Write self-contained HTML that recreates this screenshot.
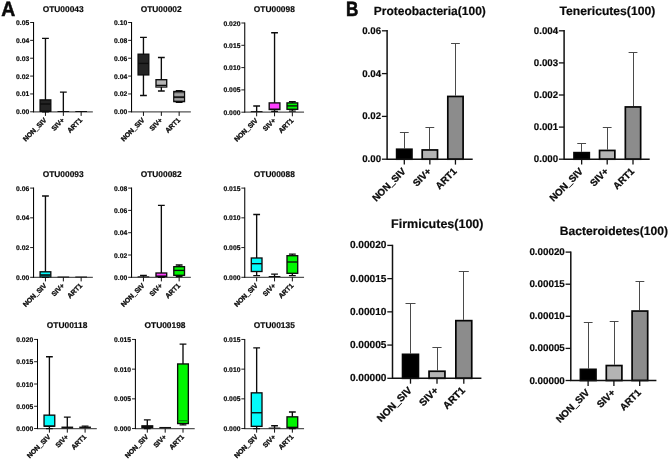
<!DOCTYPE html>
<html><head><meta charset="utf-8"><title>figure</title>
<style>
html,body{margin:0;padding:0;background:#fff;}
body{width:669px;height:459px;overflow:hidden;}
svg{display:block;will-change:transform;}
svg text{text-rendering:geometricPrecision;font-family:"Liberation Sans", sans-serif;font-weight:bold;fill:#0a0a0a;stroke:#0a0a0a;stroke-width:0.18px;}
</style></head><body>
<svg width="669" height="459" viewBox="0 0 669 459">
<rect width="669" height="459" fill="#fff"/>
<path d="M33.05 111.80H92.85" fill="none" stroke="#555" stroke-width="1.3"/>
<path d="M33.55 22.00V112.20" fill="none" stroke="#000" stroke-width="1.05"/>
<path d="M30.15 111.80H33.55" stroke="#111" stroke-width="0.95"/>
<text x="29.35" y="114.35" font-size="6.75" text-anchor="end" letter-spacing="0.05">0.00</text>
<path d="M30.15 93.94H33.55" stroke="#111" stroke-width="0.95"/>
<text x="29.35" y="96.49" font-size="6.75" text-anchor="end" letter-spacing="0.05">0.01</text>
<path d="M30.15 76.08H33.55" stroke="#111" stroke-width="0.95"/>
<text x="29.35" y="78.63" font-size="6.75" text-anchor="end" letter-spacing="0.05">0.02</text>
<path d="M30.15 58.22H33.55" stroke="#111" stroke-width="0.95"/>
<text x="29.35" y="60.77" font-size="6.75" text-anchor="end" letter-spacing="0.05">0.03</text>
<path d="M30.15 40.36H33.55" stroke="#111" stroke-width="0.95"/>
<text x="29.35" y="42.91" font-size="6.75" text-anchor="end" letter-spacing="0.05">0.04</text>
<path d="M30.15 22.50H33.55" stroke="#111" stroke-width="0.95"/>
<text x="29.35" y="25.05" font-size="6.75" text-anchor="end" letter-spacing="0.05">0.05</text>
<text x="63.15" y="12.00" font-size="8.38" text-anchor="middle">OTU00043</text>
<path d="M45.45 111.80V115.90" stroke="#111" stroke-width="1.0"/>
<text transform="translate(46.95,120.60) rotate(-45)" font-size="6.8" text-anchor="end" style="stroke-width:0.3px">NON_SIV</text>
<path d="M63.35 111.80V115.90" stroke="#111" stroke-width="1.0"/>
<text transform="translate(64.85,120.60) rotate(-45)" font-size="6.8" text-anchor="end" style="stroke-width:0.3px">SIV+</text>
<path d="M81.15 111.80V115.90" stroke="#111" stroke-width="1.0"/>
<text transform="translate(82.65,120.60) rotate(-45)" font-size="6.8" text-anchor="end" style="stroke-width:0.3px">ART1</text>
<path d="M45.45 38.40V111.80M42.05 38.40H48.85M42.05 111.80H48.85" stroke="#0c0c0c" stroke-width="1.35" fill="none"/>
<rect x="40.10" y="99.90" width="10.70" height="11.40" fill="#242424" stroke="#0c0c0c" stroke-width="1.35"/>
<path d="M40.10 104.00H50.80" stroke="#0c0c0c" stroke-width="1.35"/>
<path d="M57.50 111.50H69.20" stroke="#111" stroke-width="1.0"/>
<path d="M63.35 92.10V111.50M59.95 92.10H66.75" stroke="#0c0c0c" stroke-width="1.35" fill="none"/>
<path d="M75.30 111.50H87.00" stroke="#111" stroke-width="1.0"/>
<path d="M131.05 111.80H190.85" fill="none" stroke="#555" stroke-width="1.3"/>
<path d="M131.55 22.00V112.20" fill="none" stroke="#000" stroke-width="1.05"/>
<path d="M128.15 111.80H131.55" stroke="#111" stroke-width="0.95"/>
<text x="127.35" y="114.35" font-size="6.75" text-anchor="end" letter-spacing="0.05">0.00</text>
<path d="M128.15 93.94H131.55" stroke="#111" stroke-width="0.95"/>
<text x="127.35" y="96.49" font-size="6.75" text-anchor="end" letter-spacing="0.05">0.02</text>
<path d="M128.15 76.08H131.55" stroke="#111" stroke-width="0.95"/>
<text x="127.35" y="78.63" font-size="6.75" text-anchor="end" letter-spacing="0.05">0.04</text>
<path d="M128.15 58.22H131.55" stroke="#111" stroke-width="0.95"/>
<text x="127.35" y="60.77" font-size="6.75" text-anchor="end" letter-spacing="0.05">0.06</text>
<path d="M128.15 40.36H131.55" stroke="#111" stroke-width="0.95"/>
<text x="127.35" y="42.91" font-size="6.75" text-anchor="end" letter-spacing="0.05">0.08</text>
<path d="M128.15 22.50H131.55" stroke="#111" stroke-width="0.95"/>
<text x="127.35" y="25.05" font-size="6.75" text-anchor="end" letter-spacing="0.05">0.10</text>
<text x="161.15" y="12.00" font-size="8.38" text-anchor="middle">OTU00002</text>
<path d="M143.45 111.80V115.90" stroke="#111" stroke-width="1.0"/>
<text transform="translate(144.95,120.60) rotate(-45)" font-size="6.8" text-anchor="end" style="stroke-width:0.3px">NON_SIV</text>
<path d="M161.35 111.80V115.90" stroke="#111" stroke-width="1.0"/>
<text transform="translate(162.85,120.60) rotate(-45)" font-size="6.8" text-anchor="end" style="stroke-width:0.3px">SIV+</text>
<path d="M179.15 111.80V115.90" stroke="#111" stroke-width="1.0"/>
<text transform="translate(180.65,120.60) rotate(-45)" font-size="6.8" text-anchor="end" style="stroke-width:0.3px">ART1</text>
<path d="M143.45 37.40V95.50M140.05 37.40H146.85M140.05 95.50H146.85" stroke="#0c0c0c" stroke-width="1.35" fill="none"/>
<rect x="138.10" y="54.20" width="10.70" height="20.70" fill="#242424" stroke="#0c0c0c" stroke-width="1.35"/>
<path d="M138.10 63.40H148.80" stroke="#0c0c0c" stroke-width="1.35"/>
<path d="M161.35 57.50V91.00M157.95 57.50H164.75M157.95 91.00H164.75" stroke="#0c0c0c" stroke-width="1.35" fill="none"/>
<rect x="156.00" y="79.70" width="10.70" height="7.30" fill="#b4b4b4" stroke="#0c0c0c" stroke-width="1.35"/>
<rect x="156.50" y="85.40" width="9.70" height="1.60" fill="#6e6e6e"/>
<path d="M156.00 85.40H166.70" stroke="#0c0c0c" stroke-width="1.35"/>
<path d="M179.15 90.70V102.40M175.75 90.70H182.55M175.75 102.40H182.55" stroke="#0c0c0c" stroke-width="1.35" fill="none"/>
<rect x="173.80" y="91.50" width="10.70" height="10.10" fill="#626262" stroke="#0c0c0c" stroke-width="1.35"/>
<rect x="174.40" y="93.30" width="9.50" height="2.60" fill="#a2a2a2"/>
<rect x="174.40" y="98.30" width="9.50" height="2.00" fill="#a2a2a2"/>
<path d="M173.80 97.20H184.50" stroke="#0c0c0c" stroke-width="1.35"/>
<path d="M244.25 112.20H304.05" fill="none" stroke="#555" stroke-width="1.3"/>
<path d="M244.75 22.50V112.60" fill="none" stroke="#000" stroke-width="1.05"/>
<path d="M241.35 112.20H244.75" stroke="#111" stroke-width="0.95"/>
<text x="240.55" y="114.75" font-size="6.75" text-anchor="end" letter-spacing="0.05">0.000</text>
<path d="M241.35 89.90H244.75" stroke="#111" stroke-width="0.95"/>
<text x="240.55" y="92.45" font-size="6.75" text-anchor="end" letter-spacing="0.05">0.005</text>
<path d="M241.35 67.60H244.75" stroke="#111" stroke-width="0.95"/>
<text x="240.55" y="70.15" font-size="6.75" text-anchor="end" letter-spacing="0.05">0.010</text>
<path d="M241.35 45.30H244.75" stroke="#111" stroke-width="0.95"/>
<text x="240.55" y="47.85" font-size="6.75" text-anchor="end" letter-spacing="0.05">0.015</text>
<path d="M241.35 23.00H244.75" stroke="#111" stroke-width="0.95"/>
<text x="240.55" y="25.55" font-size="6.75" text-anchor="end" letter-spacing="0.05">0.020</text>
<text x="274.35" y="12.00" font-size="8.38" text-anchor="middle">OTU00098</text>
<path d="M256.65 112.20V116.30" stroke="#111" stroke-width="1.0"/>
<text transform="translate(258.15,121.00) rotate(-45)" font-size="6.8" text-anchor="end" style="stroke-width:0.3px">NON_SIV</text>
<path d="M274.55 112.20V116.30" stroke="#111" stroke-width="1.0"/>
<text transform="translate(276.05,121.00) rotate(-45)" font-size="6.8" text-anchor="end" style="stroke-width:0.3px">SIV+</text>
<path d="M292.35 112.20V116.30" stroke="#111" stroke-width="1.0"/>
<text transform="translate(293.85,121.00) rotate(-45)" font-size="6.8" text-anchor="end" style="stroke-width:0.3px">ART1</text>
<path d="M250.80 111.60H262.50" stroke="#111" stroke-width="1.0"/>
<path d="M256.65 106.00V111.60M253.25 106.00H260.05" stroke="#0c0c0c" stroke-width="1.35" fill="none"/>
<path d="M274.55 32.70V111.40M271.15 32.70H277.95M271.15 111.40H277.95" stroke="#0c0c0c" stroke-width="1.35" fill="none"/>
<rect x="269.20" y="102.90" width="10.70" height="6.60" fill="#ff40ff" stroke="#0c0c0c" stroke-width="1.35"/>
<path d="M269.20 109.30H279.90" stroke="#0c0c0c" stroke-width="1.35"/>
<path d="M292.35 101.70V111.10M288.95 101.70H295.75M288.95 111.10H295.75" stroke="#0c0c0c" stroke-width="1.35" fill="none"/>
<rect x="287.00" y="102.90" width="10.70" height="6.40" fill="#00f600" stroke="#0c0c0c" stroke-width="1.35"/>
<path d="M287.00 105.90H297.70" stroke="#0c0c0c" stroke-width="1.35"/>
<g transform="translate(0,0.3)">
<path d="M33.05 277.00H92.85" fill="none" stroke="#555" stroke-width="1.3"/>
<path d="M33.55 187.30V277.40" fill="none" stroke="#000" stroke-width="1.05"/>
<path d="M30.15 277.00H33.55" stroke="#111" stroke-width="0.95"/>
<text x="29.35" y="279.55" font-size="6.75" text-anchor="end" letter-spacing="0.05">0.00</text>
<path d="M30.15 247.27H33.55" stroke="#111" stroke-width="0.95"/>
<text x="29.35" y="249.82" font-size="6.75" text-anchor="end" letter-spacing="0.05">0.02</text>
<path d="M30.15 217.53H33.55" stroke="#111" stroke-width="0.95"/>
<text x="29.35" y="220.08" font-size="6.75" text-anchor="end" letter-spacing="0.05">0.04</text>
<path d="M30.15 187.80H33.55" stroke="#111" stroke-width="0.95"/>
<text x="29.35" y="190.35" font-size="6.75" text-anchor="end" letter-spacing="0.05">0.06</text>
<text x="63.15" y="176.50" font-size="8.38" text-anchor="middle">OTU00093</text>
<path d="M45.45 277.00V281.10" stroke="#111" stroke-width="1.0"/>
<text transform="translate(46.95,285.80) rotate(-45)" font-size="6.8" text-anchor="end" style="stroke-width:0.3px">NON_SIV</text>
<path d="M63.35 277.00V281.10" stroke="#111" stroke-width="1.0"/>
<text transform="translate(64.85,285.80) rotate(-45)" font-size="6.8" text-anchor="end" style="stroke-width:0.3px">SIV+</text>
<path d="M81.15 277.00V281.10" stroke="#111" stroke-width="1.0"/>
<text transform="translate(82.65,285.80) rotate(-45)" font-size="6.8" text-anchor="end" style="stroke-width:0.3px">ART1</text>
<path d="M45.45 195.70V277.00M42.05 195.70H48.85M42.05 277.00H48.85" stroke="#0c0c0c" stroke-width="1.35" fill="none"/>
<rect x="40.10" y="271.50" width="10.70" height="5.00" fill="#04fafa" stroke="#0c0c0c" stroke-width="1.35"/>
<rect x="40.60" y="274.60" width="9.70" height="1.90" fill="#0a5c5c"/>
<path d="M40.10 274.60H50.80" stroke="#0c0c0c" stroke-width="1.35"/>
<path d="M57.50 276.70H69.20" stroke="#111" stroke-width="1.0"/>
<path d="M75.30 276.70H87.00" stroke="#111" stroke-width="1.0"/>
<path d="M131.05 277.00H190.85" fill="none" stroke="#555" stroke-width="1.3"/>
<path d="M131.55 187.30V277.40" fill="none" stroke="#000" stroke-width="1.05"/>
<path d="M128.15 277.00H131.55" stroke="#111" stroke-width="0.95"/>
<text x="127.35" y="279.55" font-size="6.75" text-anchor="end" letter-spacing="0.05">0.00</text>
<path d="M128.15 254.70H131.55" stroke="#111" stroke-width="0.95"/>
<text x="127.35" y="257.25" font-size="6.75" text-anchor="end" letter-spacing="0.05">0.02</text>
<path d="M128.15 232.40H131.55" stroke="#111" stroke-width="0.95"/>
<text x="127.35" y="234.95" font-size="6.75" text-anchor="end" letter-spacing="0.05">0.04</text>
<path d="M128.15 210.10H131.55" stroke="#111" stroke-width="0.95"/>
<text x="127.35" y="212.65" font-size="6.75" text-anchor="end" letter-spacing="0.05">0.06</text>
<path d="M128.15 187.80H131.55" stroke="#111" stroke-width="0.95"/>
<text x="127.35" y="190.35" font-size="6.75" text-anchor="end" letter-spacing="0.05">0.08</text>
<text x="161.15" y="176.50" font-size="8.38" text-anchor="middle">OTU00082</text>
<path d="M143.45 277.00V281.10" stroke="#111" stroke-width="1.0"/>
<text transform="translate(144.95,285.80) rotate(-45)" font-size="6.8" text-anchor="end" style="stroke-width:0.3px">NON_SIV</text>
<path d="M161.35 277.00V281.10" stroke="#111" stroke-width="1.0"/>
<text transform="translate(162.85,285.80) rotate(-45)" font-size="6.8" text-anchor="end" style="stroke-width:0.3px">SIV+</text>
<path d="M179.15 277.00V281.10" stroke="#111" stroke-width="1.0"/>
<text transform="translate(180.65,285.80) rotate(-45)" font-size="6.8" text-anchor="end" style="stroke-width:0.3px">ART1</text>
<path d="M137.60 276.50H149.30" stroke="#111" stroke-width="1.0"/>
<path d="M143.45 275.00V276.50M140.05 275.00H146.85" stroke="#0c0c0c" stroke-width="1.35" fill="none"/>
<path d="M161.35 205.00V277.00M157.95 205.00H164.75M157.95 277.00H164.75" stroke="#0c0c0c" stroke-width="1.35" fill="none"/>
<rect x="156.00" y="272.70" width="10.70" height="3.40" fill="#ff40ff" stroke="#0c0c0c" stroke-width="1.35"/>
<path d="M156.00 276.00H166.70" stroke="#0c0c0c" stroke-width="1.35"/>
<path d="M179.15 264.70V276.20M175.75 264.70H182.55M175.75 276.20H182.55" stroke="#0c0c0c" stroke-width="1.35" fill="none"/>
<rect x="173.80" y="266.40" width="10.70" height="8.60" fill="#00f600" stroke="#0c0c0c" stroke-width="1.35"/>
<path d="M173.80 270.10H184.50" stroke="#0c0c0c" stroke-width="1.35"/>
<path d="M244.25 277.00H304.05" fill="none" stroke="#555" stroke-width="1.3"/>
<path d="M244.75 187.30V277.40" fill="none" stroke="#000" stroke-width="1.05"/>
<path d="M241.35 277.00H244.75" stroke="#111" stroke-width="0.95"/>
<text x="240.55" y="279.55" font-size="6.75" text-anchor="end" letter-spacing="0.05">0.000</text>
<path d="M241.35 247.27H244.75" stroke="#111" stroke-width="0.95"/>
<text x="240.55" y="249.82" font-size="6.75" text-anchor="end" letter-spacing="0.05">0.005</text>
<path d="M241.35 217.53H244.75" stroke="#111" stroke-width="0.95"/>
<text x="240.55" y="220.08" font-size="6.75" text-anchor="end" letter-spacing="0.05">0.010</text>
<path d="M241.35 187.80H244.75" stroke="#111" stroke-width="0.95"/>
<text x="240.55" y="190.35" font-size="6.75" text-anchor="end" letter-spacing="0.05">0.015</text>
<text x="274.35" y="176.50" font-size="8.38" text-anchor="middle">OTU00088</text>
<path d="M256.65 277.00V281.10" stroke="#111" stroke-width="1.0"/>
<text transform="translate(258.15,285.80) rotate(-45)" font-size="6.8" text-anchor="end" style="stroke-width:0.3px">NON_SIV</text>
<path d="M274.55 277.00V281.10" stroke="#111" stroke-width="1.0"/>
<text transform="translate(276.05,285.80) rotate(-45)" font-size="6.8" text-anchor="end" style="stroke-width:0.3px">SIV+</text>
<path d="M292.35 277.00V281.10" stroke="#111" stroke-width="1.0"/>
<text transform="translate(293.85,285.80) rotate(-45)" font-size="6.8" text-anchor="end" style="stroke-width:0.3px">ART1</text>
<path d="M256.65 214.20V275.30M253.25 214.20H260.05M253.25 275.30H260.05" stroke="#0c0c0c" stroke-width="1.35" fill="none"/>
<rect x="251.30" y="257.70" width="10.70" height="13.50" fill="#04fafa" stroke="#0c0c0c" stroke-width="1.35"/>
<path d="M251.30 263.40H262.00" stroke="#0c0c0c" stroke-width="1.35"/>
<path d="M268.70 276.20H280.40" stroke="#111" stroke-width="1.0"/>
<path d="M274.55 273.90V276.20M271.15 273.90H277.95" stroke="#0c0c0c" stroke-width="1.35" fill="none"/>
<path d="M292.35 253.80V275.30M288.95 253.80H295.75M288.95 275.30H295.75" stroke="#0c0c0c" stroke-width="1.35" fill="none"/>
<rect x="287.00" y="255.40" width="10.70" height="17.60" fill="#00f600" stroke="#0c0c0c" stroke-width="1.35"/>
<path d="M287.00 261.70H297.70" stroke="#0c0c0c" stroke-width="1.35"/>
</g>
<g transform="translate(0,0.25)">
<path d="M37.00 428.30H96.80" fill="none" stroke="#555" stroke-width="1.3"/>
<path d="M37.50 338.70V428.70" fill="none" stroke="#000" stroke-width="1.05"/>
<path d="M34.10 428.30H37.50" stroke="#111" stroke-width="0.95"/>
<text x="33.30" y="430.85" font-size="6.75" text-anchor="end" letter-spacing="0.05">0.000</text>
<path d="M34.10 406.02H37.50" stroke="#111" stroke-width="0.95"/>
<text x="33.30" y="408.57" font-size="6.75" text-anchor="end" letter-spacing="0.05">0.005</text>
<path d="M34.10 383.75H37.50" stroke="#111" stroke-width="0.95"/>
<text x="33.30" y="386.30" font-size="6.75" text-anchor="end" letter-spacing="0.05">0.010</text>
<path d="M34.10 361.48H37.50" stroke="#111" stroke-width="0.95"/>
<text x="33.30" y="364.03" font-size="6.75" text-anchor="end" letter-spacing="0.05">0.015</text>
<path d="M34.10 339.20H37.50" stroke="#111" stroke-width="0.95"/>
<text x="33.30" y="341.75" font-size="6.75" text-anchor="end" letter-spacing="0.05">0.020</text>
<text x="67.10" y="328.20" font-size="8.38" text-anchor="middle">OTU00118</text>
<path d="M49.40 428.30V432.40" stroke="#111" stroke-width="1.0"/>
<text transform="translate(50.90,437.10) rotate(-45)" font-size="6.8" text-anchor="end" style="stroke-width:0.3px">NON_SIV</text>
<path d="M67.30 428.30V432.40" stroke="#111" stroke-width="1.0"/>
<text transform="translate(68.80,437.10) rotate(-45)" font-size="6.8" text-anchor="end" style="stroke-width:0.3px">SIV+</text>
<path d="M85.10 428.30V432.40" stroke="#111" stroke-width="1.0"/>
<text transform="translate(86.60,437.10) rotate(-45)" font-size="6.8" text-anchor="end" style="stroke-width:0.3px">ART1</text>
<path d="M49.40 356.50V428.30M46.00 356.50H52.80M46.00 428.30H52.80" stroke="#0c0c0c" stroke-width="1.35" fill="none"/>
<rect x="44.05" y="414.90" width="10.70" height="11.00" fill="#04fafa" stroke="#0c0c0c" stroke-width="1.35"/>
<path d="M44.05 426.00H54.75" stroke="#0c0c0c" stroke-width="1.35"/>
<path d="M61.45 427.30H73.15" stroke="#111" stroke-width="2.0"/>
<path d="M67.30 416.80V427.30M63.90 416.80H70.70" stroke="#0c0c0c" stroke-width="1.35" fill="none"/>
<path d="M79.25 427.10H90.95" stroke="#111" stroke-width="1.6"/>
<path d="M85.10 425.90V427.10M81.70 425.90H88.50" stroke="#0c0c0c" stroke-width="1.35" fill="none"/>
<path d="M134.90 428.30H194.70" fill="none" stroke="#555" stroke-width="1.3"/>
<path d="M135.40 338.70V428.70" fill="none" stroke="#000" stroke-width="1.05"/>
<path d="M132.00 428.30H135.40" stroke="#111" stroke-width="0.95"/>
<text x="131.20" y="430.85" font-size="6.75" text-anchor="end" letter-spacing="0.05">0.000</text>
<path d="M132.00 398.60H135.40" stroke="#111" stroke-width="0.95"/>
<text x="131.20" y="401.15" font-size="6.75" text-anchor="end" letter-spacing="0.05">0.005</text>
<path d="M132.00 368.90H135.40" stroke="#111" stroke-width="0.95"/>
<text x="131.20" y="371.45" font-size="6.75" text-anchor="end" letter-spacing="0.05">0.010</text>
<path d="M132.00 339.20H135.40" stroke="#111" stroke-width="0.95"/>
<text x="131.20" y="341.75" font-size="6.75" text-anchor="end" letter-spacing="0.05">0.015</text>
<text x="165.00" y="328.20" font-size="8.38" text-anchor="middle">OTU00198</text>
<path d="M147.30 428.30V432.40" stroke="#111" stroke-width="1.0"/>
<text transform="translate(148.80,437.10) rotate(-45)" font-size="6.8" text-anchor="end" style="stroke-width:0.3px">NON_SIV</text>
<path d="M165.20 428.30V432.40" stroke="#111" stroke-width="1.0"/>
<text transform="translate(166.70,437.10) rotate(-45)" font-size="6.8" text-anchor="end" style="stroke-width:0.3px">SIV+</text>
<path d="M183.00 428.30V432.40" stroke="#111" stroke-width="1.0"/>
<text transform="translate(184.50,437.10) rotate(-45)" font-size="6.8" text-anchor="end" style="stroke-width:0.3px">ART1</text>
<path d="M147.30 419.60V428.30M143.90 419.60H150.70M143.90 428.30H150.70" stroke="#0c0c0c" stroke-width="1.35" fill="none"/>
<rect x="141.95" y="425.60" width="10.70" height="1.70" fill="#5a5a5a" stroke="#0c0c0c" stroke-width="1.35"/>
<path d="M141.95 426.40H152.65" stroke="#0c0c0c" stroke-width="1.35"/>
<path d="M159.35 427.40H171.05" stroke="#111" stroke-width="1.4"/>
<path d="M183.00 343.90V424.60M179.60 343.90H186.40M179.60 424.60H186.40" stroke="#0c0c0c" stroke-width="1.35" fill="none"/>
<rect x="177.65" y="363.70" width="10.70" height="59.60" fill="#00f600" stroke="#0c0c0c" stroke-width="1.35"/>
<path d="M177.65 420.40H188.35" stroke="#0a8a0a" stroke-width="1.35"/>
<path d="M244.25 428.30H304.05" fill="none" stroke="#555" stroke-width="1.3"/>
<path d="M244.75 338.70V428.70" fill="none" stroke="#000" stroke-width="1.05"/>
<path d="M241.35 428.30H244.75" stroke="#111" stroke-width="0.95"/>
<text x="240.55" y="430.85" font-size="6.75" text-anchor="end" letter-spacing="0.05">0.000</text>
<path d="M241.35 398.60H244.75" stroke="#111" stroke-width="0.95"/>
<text x="240.55" y="401.15" font-size="6.75" text-anchor="end" letter-spacing="0.05">0.005</text>
<path d="M241.35 368.90H244.75" stroke="#111" stroke-width="0.95"/>
<text x="240.55" y="371.45" font-size="6.75" text-anchor="end" letter-spacing="0.05">0.010</text>
<path d="M241.35 339.20H244.75" stroke="#111" stroke-width="0.95"/>
<text x="240.55" y="341.75" font-size="6.75" text-anchor="end" letter-spacing="0.05">0.015</text>
<text x="274.35" y="328.20" font-size="8.38" text-anchor="middle">OTU00135</text>
<path d="M256.65 428.30V432.40" stroke="#111" stroke-width="1.0"/>
<text transform="translate(258.15,437.10) rotate(-45)" font-size="6.8" text-anchor="end" style="stroke-width:0.3px">NON_SIV</text>
<path d="M274.55 428.30V432.40" stroke="#111" stroke-width="1.0"/>
<text transform="translate(276.05,437.10) rotate(-45)" font-size="6.8" text-anchor="end" style="stroke-width:0.3px">SIV+</text>
<path d="M292.35 428.30V432.40" stroke="#111" stroke-width="1.0"/>
<text transform="translate(293.85,437.10) rotate(-45)" font-size="6.8" text-anchor="end" style="stroke-width:0.3px">ART1</text>
<path d="M256.65 347.60V428.30M253.25 347.60H260.05M253.25 428.30H260.05" stroke="#0c0c0c" stroke-width="1.35" fill="none"/>
<rect x="251.30" y="392.60" width="10.70" height="33.50" fill="#04fafa" stroke="#0c0c0c" stroke-width="1.35"/>
<path d="M251.30 412.50H262.00" stroke="#0c0c0c" stroke-width="1.35"/>
<path d="M268.70 427.80H280.40" stroke="#111" stroke-width="1.0"/>
<path d="M274.55 425.50V427.80M271.15 425.50H277.95" stroke="#0c0c0c" stroke-width="1.35" fill="none"/>
<path d="M292.35 411.70V428.30M288.95 411.70H295.75M288.95 428.30H295.75" stroke="#0c0c0c" stroke-width="1.35" fill="none"/>
<rect x="287.00" y="416.60" width="10.70" height="10.70" fill="#00f600" stroke="#0c0c0c" stroke-width="1.35"/>
<path d="M287.00 427.20H297.70" stroke="#0c0c0c" stroke-width="1.35"/>
</g>
<path d="M404.50 132.50V148.40M399.90 132.50H408.70" stroke="#4a4a4a" stroke-width="1" fill="none"/>
<rect x="396.65" y="149.25" width="15.30" height="9.95" fill="#000" stroke="#050505" stroke-width="1.7"/>
<path d="M429.50 127.50V149.10M425.45 127.50H434.25" stroke="#4a4a4a" stroke-width="1" fill="none"/>
<rect x="422.20" y="149.95" width="15.30" height="9.25" fill="#b4b4b4" stroke="#050505" stroke-width="1.7"/>
<path d="M455.50 43.50V95.60M451.05 43.50H459.85" stroke="#4a4a4a" stroke-width="1" fill="none"/>
<rect x="447.80" y="96.45" width="15.30" height="62.75" fill="#8c8c8c" stroke="#050505" stroke-width="1.7"/>
<path d="M387.10 30.10V159.20H472.70" fill="none" stroke="#111" stroke-width="1.5"/>
<path d="M381.90 159.20H387.10" stroke="#111" stroke-width="1.3"/>
<text x="381.10" y="162.20" font-size="9.7" text-anchor="end">0.00</text>
<path d="M381.90 116.40H387.10" stroke="#111" stroke-width="1.3"/>
<text x="381.10" y="119.40" font-size="9.7" text-anchor="end">0.02</text>
<path d="M381.90 73.60H387.10" stroke="#111" stroke-width="1.3"/>
<text x="381.10" y="76.60" font-size="9.7" text-anchor="end">0.04</text>
<path d="M381.90 30.80H387.10" stroke="#111" stroke-width="1.3"/>
<text x="381.10" y="33.80" font-size="9.7" text-anchor="end">0.06</text>
<text x="429.80" y="14.90" font-size="12" text-anchor="middle">Proteobacteria(100)</text>
<path d="M404.30 159.20V164.60" stroke="#111" stroke-width="1.3"/>
<text transform="translate(406.20,172.00) rotate(-45)" font-size="9.7" text-anchor="end" style="stroke-width:0.3px">NON_SIV</text>
<path d="M429.85 159.20V164.60" stroke="#111" stroke-width="1.3"/>
<text transform="translate(431.75,172.00) rotate(-45)" font-size="9.7" text-anchor="end" style="stroke-width:0.3px">SIV+</text>
<path d="M455.45 159.20V164.60" stroke="#111" stroke-width="1.3"/>
<text transform="translate(457.35,172.00) rotate(-45)" font-size="9.7" text-anchor="end" style="stroke-width:0.3px">ART1</text>
<path d="M581.50 143.50V151.80M577.25 143.50H586.05" stroke="#4a4a4a" stroke-width="1" fill="none"/>
<rect x="574.00" y="152.65" width="15.30" height="6.55" fill="#000" stroke="#050505" stroke-width="1.7"/>
<path d="M607.50 127.50V149.60M602.80 127.50H611.60" stroke="#4a4a4a" stroke-width="1" fill="none"/>
<rect x="599.55" y="150.45" width="15.30" height="8.75" fill="#b4b4b4" stroke="#050505" stroke-width="1.7"/>
<path d="M633.50 52.50V106.10M628.60 52.50H637.40" stroke="#4a4a4a" stroke-width="1" fill="none"/>
<rect x="625.35" y="106.95" width="15.30" height="52.25" fill="#8c8c8c" stroke="#050505" stroke-width="1.7"/>
<path d="M564.10 30.10V159.20H649.70" fill="none" stroke="#111" stroke-width="1.5"/>
<path d="M558.90 159.20H564.10" stroke="#111" stroke-width="1.3"/>
<text x="558.10" y="162.20" font-size="9.7" text-anchor="end">0.000</text>
<path d="M558.90 127.10H564.10" stroke="#111" stroke-width="1.3"/>
<text x="558.10" y="130.10" font-size="9.7" text-anchor="end">0.001</text>
<path d="M558.90 95.00H564.10" stroke="#111" stroke-width="1.3"/>
<text x="558.10" y="98.00" font-size="9.7" text-anchor="end">0.002</text>
<path d="M558.90 62.90H564.10" stroke="#111" stroke-width="1.3"/>
<text x="558.10" y="65.90" font-size="9.7" text-anchor="end">0.003</text>
<path d="M558.90 30.80H564.10" stroke="#111" stroke-width="1.3"/>
<text x="558.10" y="33.80" font-size="9.7" text-anchor="end">0.004</text>
<text x="607.40" y="14.60" font-size="12.15" text-anchor="middle">Tenericutes(100)</text>
<path d="M581.65 159.20V164.60" stroke="#111" stroke-width="1.3"/>
<text transform="translate(583.55,172.00) rotate(-45)" font-size="9.7" text-anchor="end" style="stroke-width:0.3px">NON_SIV</text>
<path d="M607.20 159.20V164.60" stroke="#111" stroke-width="1.3"/>
<text transform="translate(609.10,172.00) rotate(-45)" font-size="9.7" text-anchor="end" style="stroke-width:0.3px">SIV+</text>
<path d="M633.00 159.20V164.60" stroke="#111" stroke-width="1.3"/>
<text transform="translate(634.90,172.00) rotate(-45)" font-size="9.7" text-anchor="end" style="stroke-width:0.3px">ART1</text>
<path d="M410.50 303.50V353.50M405.50 303.50H415.50" stroke="#4a4a4a" stroke-width="1" fill="none"/>
<rect x="402.55" y="354.35" width="15.90" height="23.95" fill="#000" stroke="#050505" stroke-width="1.7"/>
<path d="M437.50 347.50V370.40M432.40 347.50H441.60" stroke="#4a4a4a" stroke-width="1" fill="none"/>
<rect x="429.05" y="371.25" width="15.90" height="7.05" fill="#b4b4b4" stroke="#050505" stroke-width="1.7"/>
<path d="M463.50 271.50V319.80M458.80 271.50H468.80" stroke="#4a4a4a" stroke-width="1" fill="none"/>
<rect x="455.85" y="320.65" width="15.90" height="57.65" fill="#8c8c8c" stroke="#050505" stroke-width="1.7"/>
<path d="M392.50 244.70V378.30H481.40" fill="none" stroke="#111" stroke-width="1.5"/>
<path d="M387.30 378.30H392.50" stroke="#111" stroke-width="1.3"/>
<text x="386.50" y="381.30" font-size="10.15" text-anchor="end">0.00000</text>
<path d="M387.30 345.07H392.50" stroke="#111" stroke-width="1.3"/>
<text x="386.50" y="348.07" font-size="10.15" text-anchor="end">0.00005</text>
<path d="M387.30 311.85H392.50" stroke="#111" stroke-width="1.3"/>
<text x="386.50" y="314.85" font-size="10.15" text-anchor="end">0.00010</text>
<path d="M387.30 278.62H392.50" stroke="#111" stroke-width="1.3"/>
<text x="386.50" y="281.62" font-size="10.15" text-anchor="end">0.00015</text>
<path d="M387.30 245.40H392.50" stroke="#111" stroke-width="1.3"/>
<text x="386.50" y="248.40" font-size="10.15" text-anchor="end">0.00020</text>
<text x="437.30" y="228.00" font-size="12.5" text-anchor="middle">Firmicutes(100)</text>
<path d="M410.50 378.30V383.70" stroke="#111" stroke-width="1.3"/>
<text transform="translate(412.40,391.10) rotate(-45)" font-size="10.1" text-anchor="end" style="stroke-width:0.3px">NON_SIV</text>
<path d="M437.00 378.30V383.70" stroke="#111" stroke-width="1.3"/>
<text transform="translate(438.90,391.10) rotate(-45)" font-size="10.1" text-anchor="end" style="stroke-width:0.3px">SIV+</text>
<path d="M463.80 378.30V383.70" stroke="#111" stroke-width="1.3"/>
<text transform="translate(465.70,391.10) rotate(-45)" font-size="10.1" text-anchor="end" style="stroke-width:0.3px">ART1</text>
<path d="M588.50 322.50V368.50M583.80 322.50H592.60" stroke="#4a4a4a" stroke-width="1" fill="none"/>
<rect x="580.40" y="369.35" width="15.60" height="11.15" fill="#000" stroke="#050505" stroke-width="1.7"/>
<path d="M614.50 321.50V364.70M609.70 321.50H618.50" stroke="#4a4a4a" stroke-width="1" fill="none"/>
<rect x="606.30" y="365.55" width="15.60" height="14.95" fill="#b4b4b4" stroke="#050505" stroke-width="1.7"/>
<path d="M639.50 281.50V310.20M635.50 281.50H644.30" stroke="#4a4a4a" stroke-width="1" fill="none"/>
<rect x="632.10" y="311.05" width="15.60" height="69.45" fill="#8c8c8c" stroke="#050505" stroke-width="1.7"/>
<path d="M570.80 251.40V380.50H656.40" fill="none" stroke="#111" stroke-width="1.5"/>
<path d="M565.60 380.50H570.80" stroke="#111" stroke-width="1.3"/>
<text x="564.80" y="383.50" font-size="9.8" text-anchor="end">0.00000</text>
<path d="M565.60 348.40H570.80" stroke="#111" stroke-width="1.3"/>
<text x="564.80" y="351.40" font-size="9.8" text-anchor="end">0.00005</text>
<path d="M565.60 316.30H570.80" stroke="#111" stroke-width="1.3"/>
<text x="564.80" y="319.30" font-size="9.8" text-anchor="end">0.00010</text>
<path d="M565.60 284.20H570.80" stroke="#111" stroke-width="1.3"/>
<text x="564.80" y="287.20" font-size="9.8" text-anchor="end">0.00015</text>
<path d="M565.60 252.10H570.80" stroke="#111" stroke-width="1.3"/>
<text x="564.80" y="255.10" font-size="9.8" text-anchor="end">0.00020</text>
<text x="613.90" y="235.00" font-size="12.1" text-anchor="middle">Bacteroidetes(100)</text>
<path d="M588.10 380.50V385.90" stroke="#111" stroke-width="1.3"/>
<text transform="translate(590.00,393.30) rotate(-45)" font-size="9.7" text-anchor="end" style="stroke-width:0.3px">NON_SIV</text>
<path d="M613.90 380.50V385.90" stroke="#111" stroke-width="1.3"/>
<text transform="translate(615.80,393.30) rotate(-45)" font-size="9.7" text-anchor="end" style="stroke-width:0.3px">SIV+</text>
<path d="M639.70 380.50V385.90" stroke="#111" stroke-width="1.3"/>
<text transform="translate(641.60,393.30) rotate(-45)" font-size="9.7" text-anchor="end" style="stroke-width:0.3px">ART1</text>
<text transform="translate(1.2,15.55) scale(0.93,1)" font-size="20.9" style="stroke-width:0.5px;stroke-linejoin:miter">A</text>
<text transform="translate(345.9,15.5) scale(0.829,1)" font-size="20.6" style="stroke-width:0.6px;stroke-linejoin:miter">B</text>
</svg>
</body></html>
